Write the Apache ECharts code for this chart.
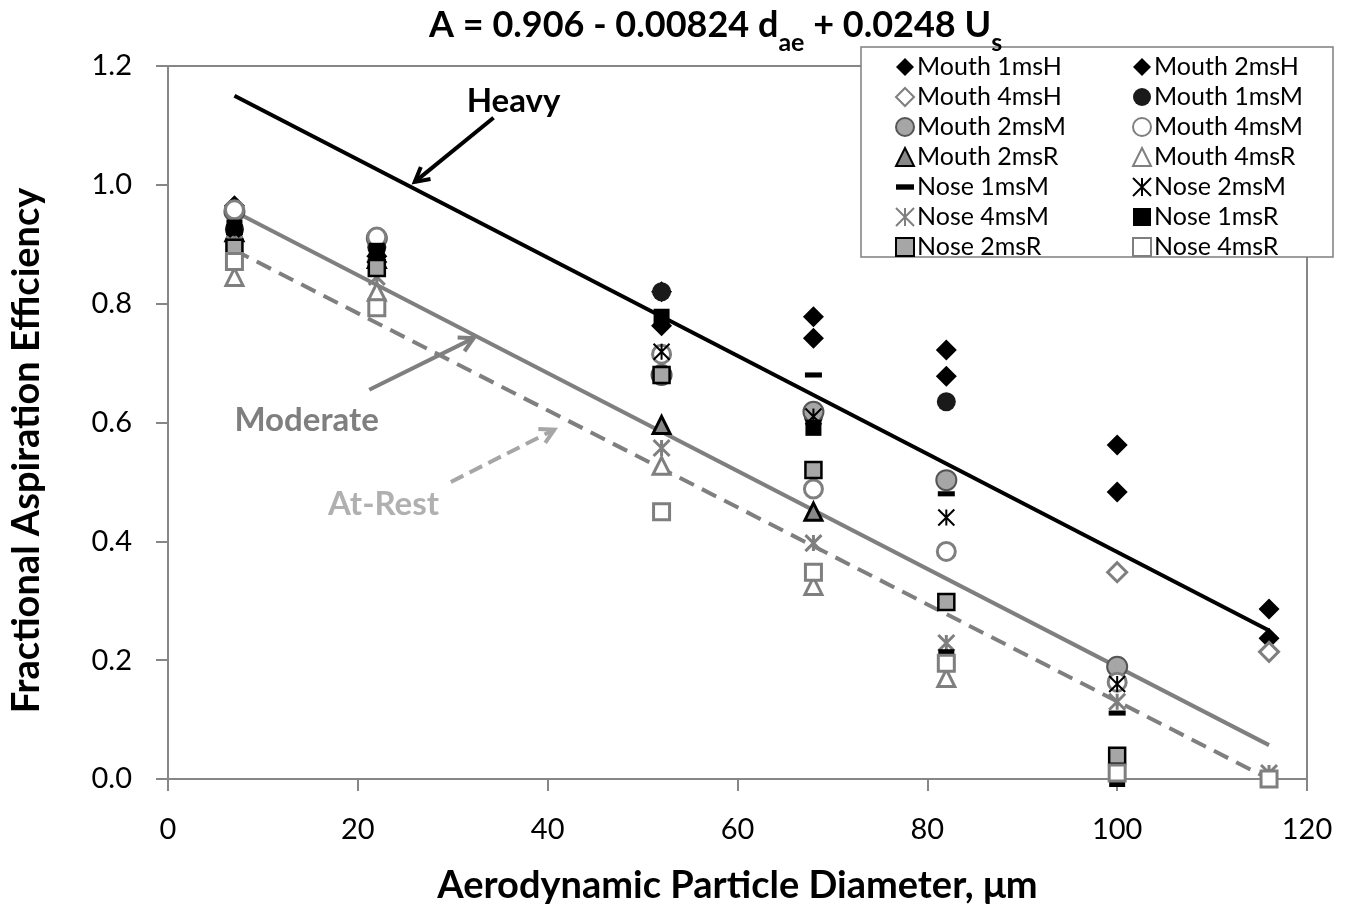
<!DOCTYPE html>
<html><head><meta charset="utf-8">
<script src="https://cdn.jsdelivr.net/npm/echarts@6/dist/echarts.min.js"></script>
<style>html,body{margin:0;padding:0;background:#fff}#c{width:1355px;height:910px}</style>
</head><body><div id="c"></div>
<script>
// ---- data ----
const xValues = [7, 22, 52, 68, 82, 100, 116];
const mouth1msH = [0.965, 0.88, 0.82, 0.778, 0.722, 0.562, 0.286];
const mouth2msH = [0.95, 0.87, 0.763, 0.742, 0.678, 0.483, 0.237];
const mouth4msH = [null, null, null, null, null, 0.348, 0.214];
const mouth1msM = [0.925, 0.895, 0.82, 0.61, 0.635, null, null];
const mouth2msM = [0.955, 0.91, 0.68, 0.618, 0.503, 0.189, null];
const mouth4msM = [0.958, 0.912, 0.715, 0.488, 0.383, 0.163, null];
const mouth2msR = [0.92, 0.875, 0.596, 0.45, null, null, null];
const mouth4msR = [0.845, 0.82, 0.527, 0.325, 0.17, null, null];
const nose1msM = [0.92, 0.88, null, 0.68, 0.48, 0.111, null];
const nose2msM = [0.92, 0.88, 0.719, 0.61, 0.44, 0.16, null];
const nose4msM = [0.9, 0.845, 0.557, 0.397, 0.229, 0.13, 0.01];
const nose1msR = [0.928, 0.889, 0.778, 0.591, 0.205, 0.0, null];
const nose2msR = [0.894, 0.86, 0.68, 0.52, 0.298, 0.039, null];
const nose4msR = [0.871, 0.793, 0.45, 0.348, 0.195, 0.01, 0.0];

const fitX = [7, 116];
const heavyY = [1.15, 0.25];
const moderateY = [0.955, 0.057];
const atRestY = [0.89, 0.0];

const xTicks = [0, 20, 40, 60, 80, 100, 120];
const yTicks = [0.0, 0.2, 0.4, 0.6, 0.8, 1.0, 1.2];

// ---- styles ----
const FONT = 'Lato';
const BLACK = '#000000';
const GRAY = '#7f7f7f';
const LGRAY = '#a6a6a6';
const AXIS = '#868686';
const ASTER = 'path://M0,0L10,10M10,0L0,10M5,0L5,10';
const DASH = 'path://M0,0L10,0L10,3L0,3Z';

function pts(arr) { return xValues.map((x, i) => arr[i] == null ? null : [x, arr[i]]).filter(p => p); }
function line(ys) { return fitX.map((x, i) => [x, ys[i]]); }

const scatterDefs = [
  ['Mouth 1msH', mouth1msH, 'diamond', 21, {color: BLACK}],
  ['Mouth 2msH', mouth2msH, 'diamond', 21, {color: BLACK}],
  ['Mouth 4msH', mouth4msH, 'diamond', 19, {color: '#fff', borderColor: GRAY, borderWidth: 3}],
  ['Mouth 1msM', mouth1msM, 'circle', 19, {color: '#1a1a1a'}],
  ['Mouth 2msM', mouth2msM, 'circle', 20, {color: LGRAY, borderColor: '#555', borderWidth: 2}],
  ['Mouth 4msM', mouth4msM, 'circle', 18, {color: '#fff', borderColor: GRAY, borderWidth: 3}],
  ['Mouth 2msR', mouth2msR, 'triangle', 17, {color: '#888', borderColor: BLACK, borderWidth: 3}],
  ['Mouth 4msR', mouth4msR, 'triangle', 17, {color: '#fff', borderColor: GRAY, borderWidth: 3}],
  ['Nose 1msM', nose1msM, DASH, 17, {color: BLACK}],
  ['Nose 2msM', nose2msM, ASTER, 16, {color: 'rgba(0,0,0,0)', borderColor: BLACK, borderWidth: 2}],
  ['Nose 4msM', nose4msM, ASTER, 16, {color: 'rgba(0,0,0,0)', borderColor: GRAY, borderWidth: 3}],
  ['Nose 1msR', nose1msR, 'rect', 16, {color: BLACK}],
  ['Nose 2msR', nose2msR, 'rect', 16, {color: LGRAY, borderColor: BLACK, borderWidth: 2.5}],
  ['Nose 4msR', nose4msR, 'rect', 16, {color: '#fff', borderColor: GRAY, borderWidth: 3}]
];

const series = [
  {name: 'Heavy', type: 'line', data: line(heavyY), showSymbol: false, z: 1, silent: true,
   lineStyle: {color: BLACK, width: 4}},
  {name: 'Moderate', type: 'line', data: line(moderateY), showSymbol: false, z: 1, silent: true,
   lineStyle: {color: GRAY, width: 4}},
  {name: 'At-Rest', type: 'line', data: line(atRestY), showSymbol: false, z: 1, silent: true,
   lineStyle: {color: GRAY, width: 4, type: [16, 9]}}
];
scatterDefs.forEach(d => {
  series.push({name: d[0], type: 'scatter', data: pts(d[1]), symbol: d[2], symbolSize: d[3],
    symbolKeepAspect: d[2] === DASH, itemStyle: Object.assign({opacity: 1}, d[4]), z: 3});
});

const names = scatterDefs.map(d => d[0]);
const legendCommon = {
  orient: 'vertical', top: 47, itemWidth: 18, itemHeight: 18, itemGap: 0,
  textStyle: {fontFamily: FONT, fontSize: 25, color: BLACK, lineHeight: 30, padding: [0, 0, 0, -2]},
  selectedMode: false
};

const chart = echarts.init(document.getElementById('c'));
chart.setOption({
  animation: false,
  backgroundColor: '#fff',
  title: {
    text: '{a|A = 0.906 - 0.00824 d}{s|ae}{a| + 0.0248 U}{s|s}',
    left: 424, top: 0,
    textStyle: {
      rich: {
        a: {fontFamily: FONT, fontSize: 36, fontWeight: 'bold', color: BLACK, lineHeight: 50, verticalAlign: 'bottom', padding: [0, 0, 12, 0]},
        s: {fontFamily: FONT, fontSize: 25, fontWeight: 'bold', color: BLACK, lineHeight: 50, verticalAlign: 'bottom', padding: [0, 0, 0, 0]}
      }
    }
  },
  grid: {left: 163, right: 48, top: 66, bottom: 131, show: true, borderColor: AXIS, borderWidth: 2, backgroundColor: 'transparent'},
  legend: [
    Object.assign({}, legendCommon, {left: 890, data: names.filter((n, i) => i % 2 === 0)}),
    Object.assign({}, legendCommon, {left: 1127, data: names.filter((n, i) => i % 2 === 1)})
  ],
  xAxis: {
    type: 'value', min: xTicks[0], max: xTicks[xTicks.length - 1], interval: 20,
    name: 'Aerodynamic Particle Diameter, \u03bcm', nameLocation: 'middle', nameGap: 88,
    nameTextStyle: {fontFamily: FONT, fontSize: 38, fontWeight: 'bold', color: BLACK},
    axisLine: {lineStyle: {color: AXIS, width: 2}},
    axisTick: {show: true, length: 12, lineStyle: {color: AXIS, width: 2}},
    axisLabel: {fontFamily: FONT, fontSize: 29, color: BLACK, margin: 36},
    splitLine: {show: false}
  },
  yAxis: {
    type: 'value', min: yTicks[0], max: yTicks[yTicks.length - 1], interval: 0.2,
    name: 'Fractional Aspiration Efficiency', nameLocation: 'middle', nameGap: 122,
    nameTextStyle: {fontFamily: FONT, fontSize: 38, fontWeight: 'bold', color: BLACK, padding: [0, 56, 0, 0]},
    axisLine: {show: true, lineStyle: {color: AXIS, width: 2}},
    axisTick: {show: true, length: 12, lineStyle: {color: AXIS, width: 2}},
    axisLabel: {fontFamily: FONT, fontSize: 29, color: BLACK, margin: 36, formatter: v => v.toFixed(1)},
    splitLine: {show: false}
  },
  series: series
});

// ---- annotations (data coordinates converted to pixels) ----
function P(x, y) { return chart.convertToPixel({gridIndex: 0}, [x, y]); }
function arrow(from, to, color, dashed) {
  const a = P(from[0], from[1]), b = P(to[0], to[1]);
  const ang = Math.atan2(b[1] - a[1], b[0] - a[0]);
  const L = 16, w = 0.5;
  const h1 = [b[0] - L * Math.cos(ang - w), b[1] - L * Math.sin(ang - w)];
  const h2 = [b[0] - L * Math.cos(ang + w), b[1] - L * Math.sin(ang + w)];
  return [
    {type: 'line', shape: {x1: a[0], y1: a[1], x2: b[0], y2: b[1]},
     style: {stroke: color, lineWidth: 4, lineDash: dashed ? [14, 7] : null}, z: 10},
    {type: 'polyline', shape: {points: [h1, b, h2]}, style: {stroke: color, lineWidth: 4, fill: null}, z: 10}
  ];
}
function label(x, y, text, color) {
  const p = P(x, y);
  return {type: 'text', x: p[0], y: p[1], z: 10,
    style: {text: text, fill: color, font: 'bold 33px Lato', textAlign: 'center', textVerticalAlign: 'middle'}};
}
chart.setOption({
  graphic: [
    {type: 'rect', shape: {x: 861, y: 47, width: 472, height: 210}, style: {fill: '#fff', stroke: '#7f7f7f', lineWidth: 1.5}, z: 0, zlevel: 0},
    ...arrow([34.3, 1.113], [26.0, 1.005], BLACK, false),
    ...arrow([21.2, 0.655], [32.2, 0.742], GRAY, false),
    ...arrow([29.8, 0.50], [40.7, 0.588], '#a6a6a6', true),
    label(36.4, 1.14, 'Heavy', BLACK),
    label(14.6, 0.604, 'Moderate', GRAY),
    label(22.7, 0.462, 'At-Rest', '#b0b0b0')
  ]
});
</script></body></html>
